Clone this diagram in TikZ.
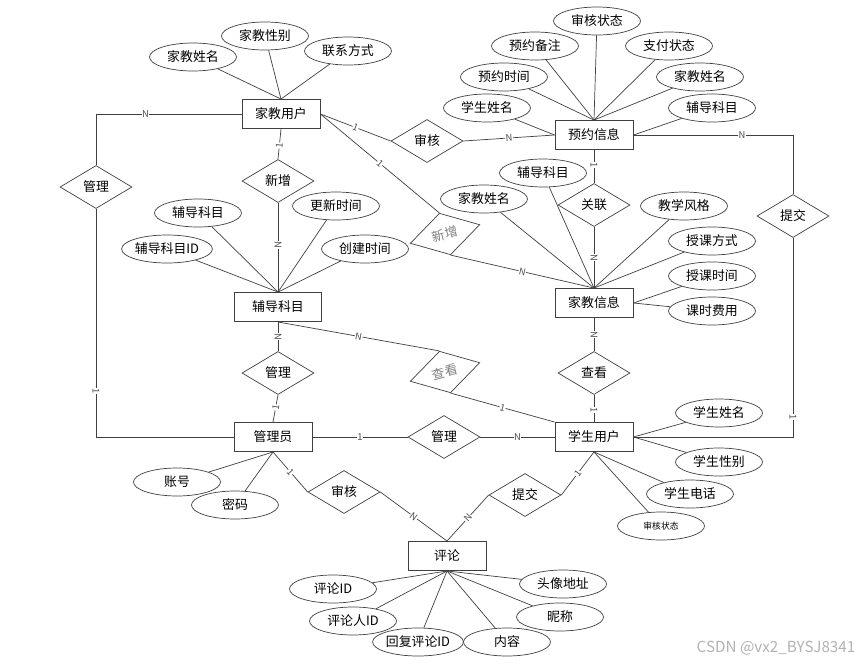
\documentclass[tikz,border=0pt]{standalone}
\usepackage{fontspec}
\setmainfont{Noto Sans CJK SC}
\usetikzlibrary{shapes,positioning}

\begin{document}
\begin{tikzpicture}[
    x=0.03cm, y=-0.03cm,
    font=\fontsize{11}{13}\selectfont,
    entity/.style={rectangle, draw=black!75, line width=0.8pt, minimum width=2.34cm, minimum height=0.87cm, inner sep=1pt},
    attr/.style={ellipse, draw=black!75, line width=0.6pt, minimum width=2.61cm, minimum height=0.84cm, inner sep=0pt},
    rel/.style={diamond, draw=black!75, line width=0.6pt, minimum width=2.16cm, minimum height=1.29cm, inner sep=0pt},
    skew/.style={rel, rotate=15, text=black!50},
    edgeline/.style={draw=black!75, line width=0.6pt},
    card/.style={font=\fontsize{8}{8}\selectfont, fill=white, inner sep=0.4pt, sloped, text=black!70}
]
    \useasboundingbox (0,0) rectangle (867,665);

    % 实体
    \node[entity] (tutor) at (281,114) {家教用户};
    \node[entity] (booking) at (594,135) {预约信息};
    \node[entity, minimum width=2.61cm] (subject) at (278,307) {辅导科目};
    \node[entity] (tutorinfo) at (594,303) {家教信息};
    \node[entity] (admin) at (273,437) {管理员};
    \node[entity] (student) at (594,437) {学生用户};
    \node[entity] (comment) at (447,556) {评论};

    % 联系
    \node[rel] (manage1) at (96,187) {管理};
    \node[rel] (add1) at (278,181) {新增};
    \node[rel] (audit1) at (427,141) {审核};
    \node[rel] (relate) at (594,205) {关联};
    \node[rel] (submit1) at (793,216) {提交};
    \node[rel] (manage2) at (278,373) {管理};
    \node[rel] (view1) at (594,373) {查看};
    \node[rel] (manage3) at (444,437) {管理};
    \node[rel] (audit2) at (344,492) {审核};
    \node[rel] (submit2) at (525,495) {提交};
    \node[skew] (add2) at (445,234) {新增};
    \node[skew] (view2) at (445,372) {查看};

    % 家教用户属性
    \node[attr] (tname) at (193,57) {家教姓名};
    \node[attr] (tsex) at (265,36) {家教性别};
    \node[attr] (tphone) at (348,51) {联系方式};

    % 预约信息属性
    \node[attr] (bstatus) at (597,21) {审核状态};
    \node[attr] (bnote) at (535,46) {预约备注};
    \node[attr] (bpay) at (669,46) {支付状态};
    \node[attr] (btime) at (504,77) {预约时间};
    \node[attr] (btutor) at (700,77) {家教姓名};
    \node[attr] (bstudent) at (487,108) {学生姓名};
    \node[attr] (bsubject) at (712,108) {辅导科目};

    % 辅导科目属性
    \node[attr] (ssubject) at (198,213) {辅导科目};
    \node[attr] (supdate) at (336,206) {更新时间};
    \node[attr] (sid) at (167,249) {辅导科目ID};
    \node[attr] (screate) at (365,249) {创建时间};

    % 家教信息属性
    \node[attr] (isubject) at (543,173) {辅导科目};
    \node[attr] (itutor) at (484,199) {家教姓名};
    \node[attr] (istyle) at (684,206) {教学风格};
    \node[attr] (imode) at (712,241) {授课方式};
    \node[attr] (itime) at (712,276) {授课时间};
    \node[attr] (ifee) at (712,311) {课时费用};

    % 管理员属性
    \node[attr] (aacc) at (177,482) {账号};
    \node[attr] (apwd) at (235,505) {密码};

    % 学生用户属性
    \node[attr] (ustu) at (719,413) {学生姓名};
    \node[attr] (usex) at (719,462) {学生性别};
    \node[attr] (utel) at (690,494) {学生电话};
    \node[attr, font=\fontsize{7.5}{7.5}\selectfont] (ustate) at (661,526) {审核状态};

    % 评论属性
    \node[attr] (cid) at (333,589) {评论ID};
    \node[attr] (cuser) at (353,621) {评论人ID};
    \node[attr] (creply) at (418,642) {回复评论ID};
    \node[attr] (ctext) at (507,642) {内容};
    \node[attr] (cnick) at (560,617) {昵称};
    \node[attr] (cavatar) at (563,584) {头像地址};

    % 属性连线
    \draw[edgeline] (tutor.north) -- (tname);
    \draw[edgeline] (tutor.north) -- (tsex);
    \draw[edgeline] (tutor.north) -- (tphone);
    \draw[edgeline] (booking.north) -- (bstatus);
    \draw[edgeline] (booking.north) -- (bnote);
    \draw[edgeline] (booking.north) -- (bpay);
    \draw[edgeline] (booking.north) -- (btime);
    \draw[edgeline] (booking.north) -- (btutor);
    \draw[edgeline] (booking.west) -- (bstudent);
    \draw[edgeline] (booking.east) -- (bsubject);
    \draw[edgeline] (subject.north) -- (ssubject);
    \draw[edgeline] (subject.north) -- (supdate);
    \draw[edgeline] (subject.north) -- (sid);
    \draw[edgeline] (subject.north) -- (screate);
    \draw[edgeline] (tutorinfo.north) -- (isubject);
    \draw[edgeline] (tutorinfo.north) -- (itutor);
    \draw[edgeline] (tutorinfo.north) -- (istyle);
    \draw[edgeline] (tutorinfo.north) -- (imode);
    \draw[edgeline] (tutorinfo.east) -- (itime);
    \draw[edgeline] (tutorinfo.east) -- (ifee);
    \draw[edgeline] (admin.south) -- (aacc);
    \draw[edgeline] (admin.south) -- (apwd);
    \draw[edgeline] (student.east) -- (ustu);
    \draw[edgeline] (student.east) -- (usex);
    \draw[edgeline] (student.south) -- (utel);
    \draw[edgeline] (student.south) -- (ustate);
    \draw[edgeline] (comment.south) -- (cid);
    \draw[edgeline] (comment.south) -- (cuser);
    \draw[edgeline] (comment.south) -- (creply);
    \draw[edgeline] (comment.south) -- (ctext);
    \draw[edgeline] (comment.south) -- (cnick);
    \draw[edgeline] (comment.south) -- (cavatar);

    % 联系连线
    \draw[edgeline] (tutor.west) -| node[card, pos=0.33] {N} (manage1.north);
    \draw[edgeline] (manage1.south) |- node[card, pos=0.4] {1} (admin.west);
    \draw[edgeline] (tutor.south) -- node[card, pos=0.55] {1} (add1.north);
    \draw[edgeline] (add1.south) -- node[card, pos=0.47] {N} (subject.north);
    \draw[edgeline] (tutor.east) -- node[card] {1} (audit1.west);
    \draw[edgeline] (audit1.east) -- node[card] {N} (booking.west);
    \draw[edgeline] (tutor.east) -- node[card] {1} (add2.north);
    \draw[edgeline] (add2.south) -- node[card] {N} (tutorinfo.north);
    \draw[edgeline] (booking.south) -- node[card, pos=0.45] {1} (relate.north);
    \draw[edgeline] (relate.south) -- node[card] {N} (tutorinfo.north);
    \draw[edgeline] (booking.east) -| node[card, pos=0.34] {N} (submit1.north);
    \draw[edgeline] (submit1.south) |- node[card, pos=0.45] {1} (student.east);
    \draw[edgeline] (tutorinfo.south) -- node[card] {N} (view1.north);
    \draw[edgeline] (view1.south) -- node[card, pos=0.55] {1} (student.north);
    \draw[edgeline] (subject.south) -- node[card] {N} (view2.north);
    \draw[edgeline] (view2.south) -- node[card] {1} (student.north west);
    \draw[edgeline] (subject.south) -- node[card] {N} (manage2.north);
    \draw[edgeline] (manage2.south) -- node[card, pos=0.46] {1} (admin.north);
    \draw[edgeline] (admin.east) -- node[card] {1} (manage3.west);
    \draw[edgeline] (manage3.east) -- node[card] {N} (student.west);
    \draw[edgeline] (admin.south) -- node[card] {1} (audit2.west);
    \draw[edgeline] (audit2.east) -- node[card] {N} (comment.north);
    \draw[edgeline] (student.south) -- node[card] {1} (submit2.east);
    \draw[edgeline] (submit2.west) -- node[card] {N} (comment.north);

    % 水印
    \node[text=black!30, font=\fontsize{13}{13}\selectfont] (wm) at (776,648) {CSDN @vx2\_BYSJ8341};
\end{tikzpicture}
\end{document}
